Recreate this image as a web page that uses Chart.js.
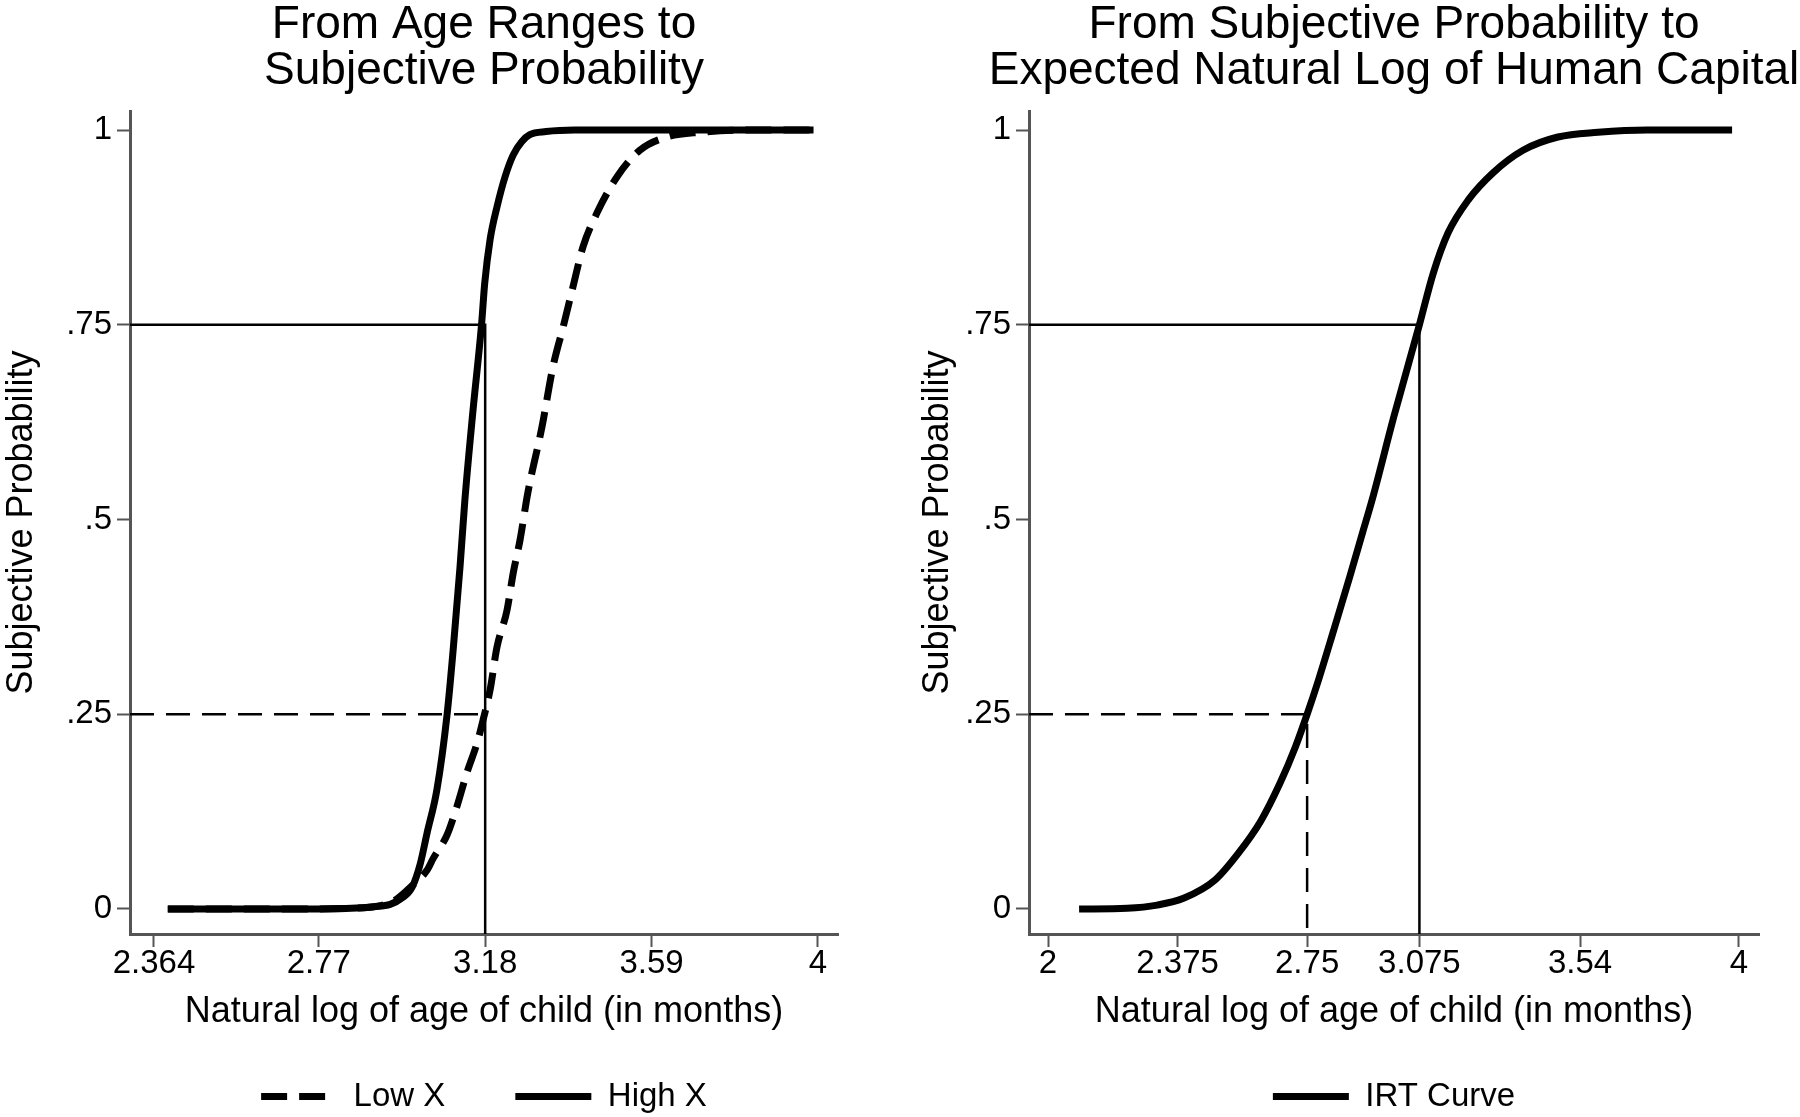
<!DOCTYPE html>
<html lang="en">
<head>
<meta charset="utf-8">
<title>Subjective probability and IRT curve</title>
<script src="https://cdn.jsdelivr.net/npm/chart.js@4.4.0/dist/chart.umd.min.js"></script>
<style>
  html, body { margin: 0; padding: 0; background: #fff; overflow: hidden; }
  #wrap { position: relative; width: 1800px; height: 1117px; overflow: hidden; }
  canvas { position: absolute; top: 0; }
  #left { left: 0; }
  #right { left: 900px; }
</style>
</head>
<body>
<div id="wrap">
  <canvas id="left" width="968" height="1123"></canvas>
  <canvas id="right" width="988" height="1123"></canvas>
</div>
<script>
// left panel: age ranges -> subjective probability
var highX_x = [2.398, 2.55, 2.70, 2.85, 2.905, 2.946, 2.975, 3.000, 3.020, 3.037, 3.061, 3.086, 3.101, 3.118, 3.130, 3.150, 3.171, 3.179, 3.192, 3.209, 3.229, 3.249, 3.270, 3.290, 3.330, 3.400, 3.550, 3.750, 3.989];
var highX_y = [0, 0, 0, 0.001, 0.003, 0.006, 0.014, 0.028, 0.058, 0.098, 0.153, 0.249, 0.332, 0.439, 0.525, 0.640, 0.750, 0.804, 0.859, 0.901, 0.940, 0.968, 0.985, 0.994, 0.998, 1, 1, 1, 1];
var lowX_x = [2.398, 2.55, 2.70, 2.85, 2.92, 2.96, 3.000, 3.037, 3.052, 3.086, 3.110, 3.135, 3.160, 3.175, 3.192, 3.209, 3.234, 3.249, 3.266, 3.285, 3.320, 3.347, 3.372, 3.396, 3.421, 3.455, 3.505, 3.561, 3.628, 3.709, 3.850, 3.989];
var lowX_y = [0, 0, 0, 0.001, 0.004, 0.012, 0.030, 0.050, 0.065, 0.095, 0.131, 0.175, 0.213, 0.243, 0.281, 0.336, 0.384, 0.431, 0.474, 0.534, 0.619, 0.696, 0.747, 0.798, 0.850, 0.893, 0.940, 0.974, 0.991, 0.997, 1, 1];
var leftTicks = [2.364, 2.77, 3.18, 3.59, 4];
var leftTickLabels = ['2.364', '2.77', '3.18', '3.59', '4'];
var leftGuideP = [0.25, 0.75];
var leftGuideX = [3.18, 3.18];

// right panel: subjective probability -> expected log human capital
var irt_x = [2.090, 2.229, 2.316, 2.394, 2.483, 2.550, 2.616, 2.672, 2.716, 2.750, 2.783, 2.827, 2.873, 2.911, 2.938, 3.001, 3.075, 3.115, 3.158, 3.216, 3.288, 3.375, 3.476, 3.592, 3.734, 3.980];
var irt_y = [0, 0.001, 0.005, 0.014, 0.037, 0.071, 0.113, 0.162, 0.208, 0.250, 0.294, 0.358, 0.426, 0.484, 0.525, 0.632, 0.750, 0.816, 0.868, 0.910, 0.945, 0.974, 0.991, 0.997, 1, 1];
var rightTicks = [2, 2.375, 2.75, 3.075, 3.54, 4];
var rightTickLabels = ['2', '2.375', '2.75', '3.075', '3.54', '4'];
var rightGuideP = [0.25, 0.75];
var rightGuideX = [2.75, 3.075];

var probTicks = [0, 0.25, 0.5, 0.75, 1];
var probTickLabels = ['0', '.25', '.5', '.75', '1'];

var Y_MIN = -0.0321, Y_MAX = 1.0244;
var axisColor = '#555';
Chart.defaults.font.family = '"Liberation Sans", Arial, Helvetica, sans-serif';
Chart.defaults.color = '#000';

function pts(xs, ys) {
    return xs.map(function (x, i) { return { x: x, y: ys[i] }; });
}

function guide(p, x, xmin, drop, dashed) {
    var d = [{ x: xmin, y: p }, { x: x, y: p }];
    if (drop) d.push({ x: x, y: Y_MIN });
    return {
        label: '', data: d, borderColor: '#000', borderWidth: 2.5,
        borderDash: dashed ? [24, 12] : [], pointRadius: 0, tension: 0, isGuide: true
    };
}

function curve(label, xs, ys, dashed) {
    return {
        label: label, data: pts(xs, ys), borderColor: '#000', backgroundColor: '#000',
        borderWidth: 7, borderDash: dashed ? [26, 12] : [], borderCapStyle: 'butt',
        borderJoinStyle: 'round', pointRadius: 0, cubicInterpolationMode: 'monotone'
    };
}

function makePanel(id, p) {
    var ctx = document.getElementById(id).getContext('2d');
    return new Chart(ctx, {
        type: 'line',
        data: { datasets: p.datasets },
        options: {
            responsive: false,
            animation: false,
            layout: { padding: 0 },
            plugins: {
                tooltip: { enabled: false },
                title: {
                    display: true, text: p.title, color: '#000',
                    font: { size: 46, weight: 'normal', lineHeight: 1.0 },
                    padding: { top: 2, bottom: 17 }
                },
                legend: {
                    display: true, position: 'bottom',
                    labels: {
                        usePointStyle: true, pointStyle: 'line', pointStyleWidth: 76,
                        padding: 70, color: '#000', font: { size: 33 },
                        generateLabels: function (chart) {
                            var items = Chart.defaults.plugins.legend.labels.generateLabels(chart);
                            return items.filter(function (it) {
                                return !chart.data.datasets[it.datasetIndex].isGuide;
                            }).map(function (it) {
                                var ds = chart.data.datasets[it.datasetIndex];
                                it.lineDash = ds.borderDash;
                                it.lineWidth = ds.borderWidth;
                                it.strokeStyle = ds.borderColor;
                                it.pointStyle = 'line';
                                return it;
                            });
                        }
                    }
                }
            },
            scales: {
                x: {
                    type: 'linear', min: p.xmin, max: p.xmax,
                    afterBuildTicks: function (s) { s.ticks = p.ticks.map(function (v) { return { value: v }; }); },
                    afterFit: function (s) { s.height = 76; },
                    ticks: {
                        autoSkip: false, maxRotation: 0, padding: 0, color: '#000',
                        font: { size: 33, lineHeight: 1 },
                        callback: function (v, i) { return p.tickLabels[i]; }
                    },
                    grid: { drawOnChartArea: false, drawTicks: true, tickLength: 13, tickColor: axisColor, tickWidth: 2 },
                    border: { display: true, color: axisColor, width: 3 },
                    title: {
                        display: true, text: 'Natural log of age of child (in months)', color: '#000',
                        font: { size: 36, lineHeight: 1.2 }, padding: { top: 0, bottom: -24 }
                    }
                },
                y: {
                    type: 'linear', position: 'left', min: Y_MIN, max: Y_MAX,
                    afterBuildTicks: function (s) { s.ticks = probTicks.map(function (v) { return { value: v }; }); },
                    afterFit: function (s) { s.width = p.yWidth; },
                    ticks: {
                        autoSkip: false, padding: 5, color: '#000',
                        font: { size: 33, lineHeight: 1 },
                        callback: function (v, i) { return probTickLabels[i]; }
                    },
                    grid: { drawOnChartArea: false, drawTicks: true, tickLength: 13, tickColor: axisColor, tickWidth: 2 },
                    border: { display: true, color: axisColor, width: 3 },
                    title: {
                        display: true, text: 'Subjective Probability', color: '#000',
                        font: { size: 36, lineHeight: 1.2 }, padding: { top: p.yTitlePad, bottom: 0 }
                    }
                },
                // empty right gutter so the title and legend centre over the plot
                y2: {
                    type: 'linear', position: 'right', display: true,
                    afterFit: function (s) { s.width = p.yWidth; },
                    ticks: { display: false },
                    grid: { display: false },
                    border: { display: false }
                }
            }
        }
    });
}

var lx0 = 2.3049, lx1 = 4.0493;
makePanel('left', {
    title: ['From Age Ranges to', 'Subjective Probability'],
    xmin: lx0, xmax: lx1, ticks: leftTicks, tickLabels: leftTickLabels,
    yWidth: 130, yTitlePad: 0,
    datasets: [
        curve('Low X', lowX_x, lowX_y, true),
        curve('High X', highX_x, highX_y, false),
        guide(leftGuideP[0], leftGuideX[0], lx0, false, true),
        guide(leftGuideP[1], leftGuideX[1], lx0, true, false)
    ]
});

var rx0 = 1.945, rx1 = 4.0579;
makePanel('right', {
    title: ['From Subjective Probability to', 'Expected Natural Log of Human Capital'],
    xmin: rx0, xmax: rx1, ticks: rightTicks, tickLabels: rightTickLabels,
    yWidth: 129, yTitlePad: 16,
    datasets: [
        curve('IRT Curve', irt_x, irt_y, false),
        guide(rightGuideP[0], rightGuideX[0], rx0, true, true),
        guide(rightGuideP[1], rightGuideX[1], rx0, true, false)
    ]
});
</script>
</body>
</html>
